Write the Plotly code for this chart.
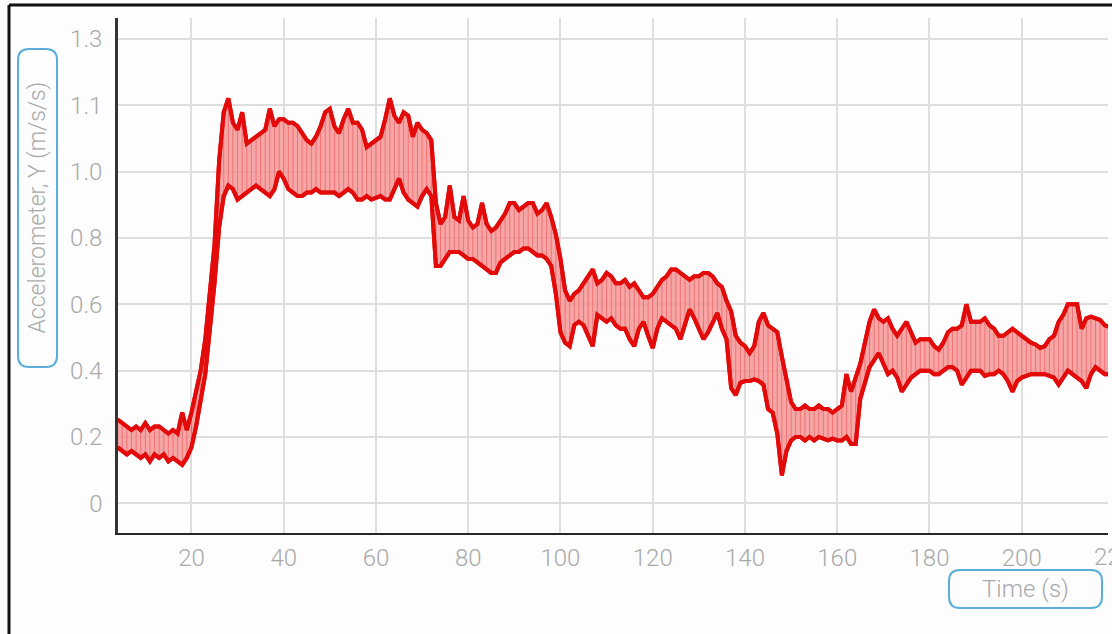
import plotly.graph_objects as go

# Sample times (s), one per second
time_s = list(range(4, 220))

# Upper and lower envelope of the noisy Y-acceleration trace (m/s/s)
accel_upper = [
    0.24, 0.23, 0.22, 0.21, 0.22, 0.21, 0.23, 0.21, 0.22, 0.22,   # 4-13
    0.21, 0.20, 0.21, 0.20, 0.26, 0.21, 0.26, 0.32, 0.38, 0.47,   # 14-23
    0.60, 0.74, 0.98, 1.12, 1.16, 1.09, 1.07, 1.12, 1.03, 1.04,   # 24-33
    1.05, 1.06, 1.07, 1.13, 1.08, 1.10, 1.10, 1.09, 1.09, 1.08,   # 34-43
    1.06, 1.04, 1.03, 1.05, 1.08, 1.12, 1.13, 1.08, 1.06, 1.10,   # 44-53
    1.13, 1.09, 1.09, 1.07, 1.02, 1.03, 1.04, 1.05, 1.10, 1.16,   # 54-63
    1.11, 1.09, 1.12, 1.11, 1.05, 1.09, 1.07, 1.06, 1.04, 0.86,   # 64-73
    0.80, 0.82, 0.91, 0.82, 0.81, 0.88, 0.81, 0.79, 0.80, 0.86,   # 74-83
    0.80, 0.78, 0.79, 0.81, 0.83, 0.86, 0.86, 0.84, 0.85, 0.86,   # 84-93
    0.86, 0.83, 0.84, 0.86, 0.82, 0.77, 0.70, 0.61, 0.58, 0.60,   # 94-103
    0.61, 0.63, 0.65, 0.67, 0.63, 0.64, 0.66, 0.65, 0.63, 0.63,   # 104-113
    0.64, 0.62, 0.63, 0.61, 0.59, 0.59, 0.60, 0.62, 0.64, 0.65,   # 114-123
    0.67, 0.67, 0.66, 0.65, 0.64, 0.65, 0.65, 0.66, 0.66, 0.65,   # 124-133
    0.63, 0.62, 0.58, 0.55, 0.48, 0.46, 0.45, 0.43, 0.45, 0.52,   # 134-143
    0.545, 0.51, 0.50, 0.49, 0.42, 0.36, 0.29, 0.27, 0.27, 0.28,  # 144-153
    0.27, 0.27, 0.28, 0.27, 0.27, 0.26, 0.27, 0.28, 0.37, 0.32,   # 154-163
    0.36, 0.40, 0.46, 0.52, 0.555, 0.53, 0.52, 0.53, 0.50, 0.48,  # 164-173
    0.50, 0.52, 0.49, 0.46, 0.47, 0.47, 0.47, 0.45, 0.44, 0.46,   # 174-183
    0.49, 0.50, 0.50, 0.51, 0.57, 0.52, 0.52, 0.52, 0.53, 0.51,   # 184-193
    0.50, 0.48, 0.48, 0.49, 0.50, 0.49, 0.48, 0.47, 0.46, 0.455,  # 194-203
    0.445, 0.45, 0.47, 0.48, 0.52, 0.54, 0.57, 0.57, 0.57, 0.50,  # 204-213
    0.53, 0.535, 0.53, 0.525, 0.51, 0.505,                        # 214-219
]

accel_lower = [
    0.16, 0.15, 0.14, 0.15, 0.14, 0.13, 0.14, 0.12, 0.14, 0.13,   # 4-13
    0.14, 0.12, 0.13, 0.12, 0.11, 0.13, 0.16, 0.22, 0.29, 0.37,   # 14-23
    0.50, 0.63, 0.79, 0.88, 0.91, 0.90, 0.87, 0.88, 0.89, 0.90,   # 24-33
    0.91, 0.90, 0.89, 0.88, 0.90, 0.95, 0.93, 0.90, 0.89, 0.88,   # 34-43
    0.88, 0.89, 0.89, 0.90, 0.89, 0.89, 0.89, 0.89, 0.88, 0.89,   # 44-53
    0.90, 0.89, 0.87, 0.87, 0.88, 0.87, 0.875, 0.88, 0.87, 0.87,  # 54-63
    0.90, 0.93, 0.89, 0.87, 0.86, 0.85, 0.88, 0.90, 0.88, 0.68,   # 64-73
    0.68, 0.70, 0.72, 0.72, 0.72, 0.71, 0.70, 0.70, 0.69, 0.68,   # 74-83
    0.67, 0.66, 0.66, 0.69, 0.70, 0.71, 0.72, 0.72, 0.73, 0.73,   # 84-93
    0.72, 0.71, 0.71, 0.70, 0.68, 0.60, 0.49, 0.46, 0.45, 0.51,   # 94-103
    0.52, 0.51, 0.48, 0.45, 0.54, 0.53, 0.52, 0.53, 0.51, 0.50,   # 104-113
    0.50, 0.47, 0.45, 0.50, 0.52, 0.48, 0.445, 0.50, 0.53, 0.52,  # 114-123
    0.51, 0.50, 0.47, 0.51, 0.555, 0.53, 0.50, 0.47, 0.49, 0.52,  # 124-133
    0.545, 0.50, 0.47, 0.33, 0.31, 0.345, 0.35, 0.35, 0.355, 0.35,  # 134-143
    0.34, 0.27, 0.26, 0.20, 0.08, 0.15, 0.18, 0.19, 0.19, 0.18,   # 144-153
    0.19, 0.18, 0.19, 0.185, 0.18, 0.185, 0.18, 0.18, 0.19, 0.17,  # 154-163
    0.17, 0.30, 0.35, 0.39, 0.41, 0.43, 0.40, 0.37, 0.38, 0.36,   # 164-173
    0.32, 0.34, 0.36, 0.37, 0.38, 0.38, 0.38, 0.37, 0.37, 0.38,   # 174-183
    0.39, 0.39, 0.38, 0.34, 0.36, 0.38, 0.38, 0.38, 0.365, 0.37,  # 184-193
    0.37, 0.38, 0.37, 0.35, 0.32, 0.35, 0.36, 0.365, 0.37, 0.37,  # 194-203
    0.37, 0.37, 0.365, 0.36, 0.34, 0.36, 0.38, 0.37, 0.36, 0.35,  # 204-213
    0.33, 0.37, 0.39, 0.38, 0.37, 0.37,                           # 214-219
]

# Y-axis ticks sit every 0.19 m/s/s, labelled to one decimal place
y_tick_vals = [0, 0.19, 0.38, 0.57, 0.76, 0.95, 1.14, 1.33]
y_tick_text = ["0", "0.2", "0.4", "0.6", "0.8", "1.0", "1.1", "1.3"]
x_tick_vals = [20, 40, 60, 80, 100, 120, 140, 160, 180, 200]

W, H = 1112, 634
ML, MR, MT, MB = 118, 4, 18, 101
PW, PH = W - ML - MR, H - MT - MB

RED = "#e30a0a"
GREY_TXT = "#a9a9a9"
BLUE = "#5aaed8"
FONT = "Roboto, Lato, 'Open Sans', sans-serif"


def px(x):
    return (x - ML) / PW


def py(y):
    return (H - MB - y) / PH


def rounded_box(x0, y0, x1, y1, r):
    rx, ry = r / PW, r / PH
    a, b, c, d = px(x0), py(y0), px(x1), py(y1)
    return (f"M {a+rx},{b} L {c-rx},{b} Q {c},{b} {c},{b-ry} "
            f"L {c},{d+ry} Q {c},{d} {c-rx},{d} L {a+rx},{d} "
            f"Q {a},{d} {a},{d+ry} L {a},{b-ry} Q {a},{b} {a+rx},{b} Z")


# vertical streaks between the envelopes give the dense-signal texture
streak_x, streak_y = [], []
for i, t in enumerate(time_s):
    if i % 2 == 0:
        streak_x += [t, t]
        streak_y += [accel_upper[i], accel_lower[i]]
    else:
        streak_x += [t, t]
        streak_y += [accel_lower[i], accel_upper[i]]

fig = go.Figure()
fig.add_trace(go.Scatter(
    x=time_s, y=accel_lower, mode="lines",
    line=dict(color=RED, width=4), hoverinfo="skip", showlegend=False))
fig.add_trace(go.Scatter(
    x=time_s, y=accel_upper, mode="lines", fill="tonexty",
    fillcolor="rgba(244,150,150,0.85)",
    line=dict(color=RED, width=4), hoverinfo="skip", showlegend=False))
fig.add_trace(go.Scatter(
    x=streak_x, y=streak_y, mode="lines",
    line=dict(color="rgba(225,20,20,0.35)", width=1),
    hoverinfo="skip", showlegend=False))
# re-stroke the envelopes on top of the streaks
fig.add_trace(go.Scatter(
    x=time_s, y=accel_upper, mode="lines",
    line=dict(color=RED, width=4), hoverinfo="skip", showlegend=False))
fig.add_trace(go.Scatter(
    x=time_s, y=accel_lower, mode="lines",
    line=dict(color=RED, width=4), hoverinfo="skip", showlegend=False))

fig.update_layout(
    width=W, height=H,
    margin=dict(l=ML, r=MR, t=MT, b=MB, pad=0),
    paper_bgcolor="#fdfdfd", plot_bgcolor="#fdfdfd",
    font=dict(family=FONT, color=GREY_TXT, size=24, weight=300),
    showlegend=False,
    xaxis=dict(
        range=[4.08, 218.7], tickvals=x_tick_vals,
        showgrid=True, gridcolor="#dedede", gridwidth=2,
        zeroline=False, showline=True, linecolor="#262626", linewidth=2,
        ticks="", ticklabelstandoff=2,
        tickfont=dict(family=FONT, color=GREY_TXT, size=24, weight=300),
    ),
    yaxis=dict(
        range=[-0.085, 1.39], tickvals=y_tick_vals, ticktext=y_tick_text,
        showgrid=True, gridcolor="#dedede", gridwidth=2,
        zeroline=False, showline=True, linecolor="#333333", linewidth=2.5,
        ticks="", ticklabelstandoff=8,
        tickfont=dict(family=FONT, color=GREY_TXT, size=24, weight=300),
    ),
    shapes=[
        # outer frame (top and left edges)
        dict(type="line", xref="paper", yref="paper",
             x0=px(9), y0=py(5), x1=px(1200), y1=py(5),
             line=dict(color="#111111", width=3)),
        dict(type="line", xref="paper", yref="paper",
             x0=px(9), y0=py(5), x1=px(9), y1=py(700),
             line=dict(color="#111111", width=3)),
        # axis title boxes
        dict(type="path", xref="paper", yref="paper",
             path=rounded_box(18, 49, 57, 367, 11),
             line=dict(color=BLUE, width=2), fillcolor="rgba(0,0,0,0)"),
        dict(type="path", xref="paper", yref="paper",
             path=rounded_box(949, 570, 1102, 608, 11),
             line=dict(color=BLUE, width=2), fillcolor="rgba(0,0,0,0)"),
    ],
    annotations=[
        dict(text="Accelerometer, Y (m/s/s)", textangle=-90,
             xref="paper", yref="paper", x=px(37.5), y=py(208),
             xanchor="center", yanchor="middle", showarrow=False,
             font=dict(family=FONT, color=GREY_TXT, size=23, weight=300)),
        dict(text="Time (s)", xref="paper", yref="paper",
             x=px(1025.5), y=py(589), xanchor="center", yanchor="middle",
             showarrow=False,
             font=dict(family=FONT, color=GREY_TXT, size=24, weight=300)),
        # last x tick label, which falls just past the plot's right edge
        dict(text="220", xref="paper", yref="paper",
             x=px(1114), y=py(557), xanchor="center", yanchor="middle",
             showarrow=False,
             font=dict(family=FONT, color=GREY_TXT, size=24, weight=300)),
    ],
)

fig.write_html("out.html", config={"displayModeBar": False})
